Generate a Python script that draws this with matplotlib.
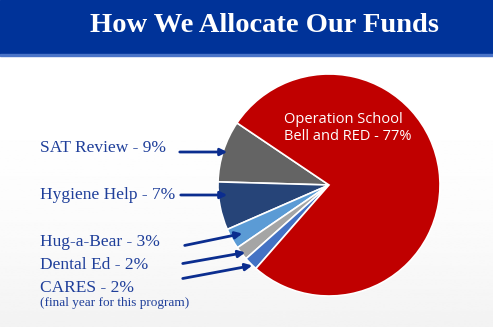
import numpy as np
import matplotlib.pyplot as plt
from matplotlib.patches import Rectangle

# data
labels = ["SAT Review", "Hygiene Help", "Hug-a-Bear", "Dental Ed", "CARES", "Operation School Bell and RED"]
values = [9, 7, 3, 2, 2, 77]
colors = ["#646464", "#264478", "#5B9BD5", "#A5A5A5", "#4472C4", "#C00000"]

W, H = 493, 327
fig = plt.figure(figsize=(W / 100, H / 100), dpi=100)
ax = fig.add_axes([0, 0, 1, 1])

# faint gradient towards the bottom
t = np.linspace(0, 1, 200)
grad = (1.0 - 0.05 * t ** 3).reshape(-1, 1)
ax.imshow(grad, extent=[0, W, 0, H], cmap="gray", vmin=0, vmax=1, aspect="auto", zorder=0)

# y given in image pixels -> flip
def fy(y):
    return H - y

# title banner
ax.add_patch(Rectangle((0, fy(54)), W, 54, color="#003399", zorder=1))
ax.add_patch(Rectangle((0, fy(55.5)), W, 1.5, color="#4A74C8", zorder=1))
ax.text(264, fy(25), "How We Allocate Our Funds", color="white", fontsize=20.5,
        fontweight="bold", family="Liberation Serif", ha="center", va="center", zorder=2)

ax.pie(values, colors=colors, startangle=146, counterclock=True,
       center=(329, fy(185)), radius=111,
       wedgeprops=dict(edgecolor="white", linewidth=1.2))

ax.text(284, fy(128), "Operation School\nBell and RED - 77%", color="white", fontsize=10.5,
        family="Open Sans", ha="left", va="center", linespacing=1.1)

blue = "#1F3F9A"
lab_y = [148, 195, 242, 265, 288]
for i in range(5):
    ax.text(40, fy(lab_y[i]), f"{labels[i]} - {values[i]}%", color=blue, fontsize=12.5,
            family="Liberation Serif", ha="left", va="center")
ax.text(40, fy(303), "(final year for this program)", color=blue, fontsize=9.5,
        family="Liberation Serif", ha="left", va="center")

arrows = [((177, 152), (230, 152)), ((178, 195), (230, 195)),
          ((182, 246), (245, 233)), ((180, 264), (248, 252)), ((180, 279), (255, 265))]
for (x0, y0), (x1, y1) in arrows:
    ax.annotate("", xy=(x1, fy(y1)), xytext=(x0, fy(y0)),
                arrowprops=dict(arrowstyle="-|>", color="#0B2D8F", lw=2, mutation_scale=10))

ax.set_xlim(0, W)
ax.set_ylim(0, H)
ax.set_aspect("auto")
ax.axis("off")
fig.savefig("out.png", dpi=100)
